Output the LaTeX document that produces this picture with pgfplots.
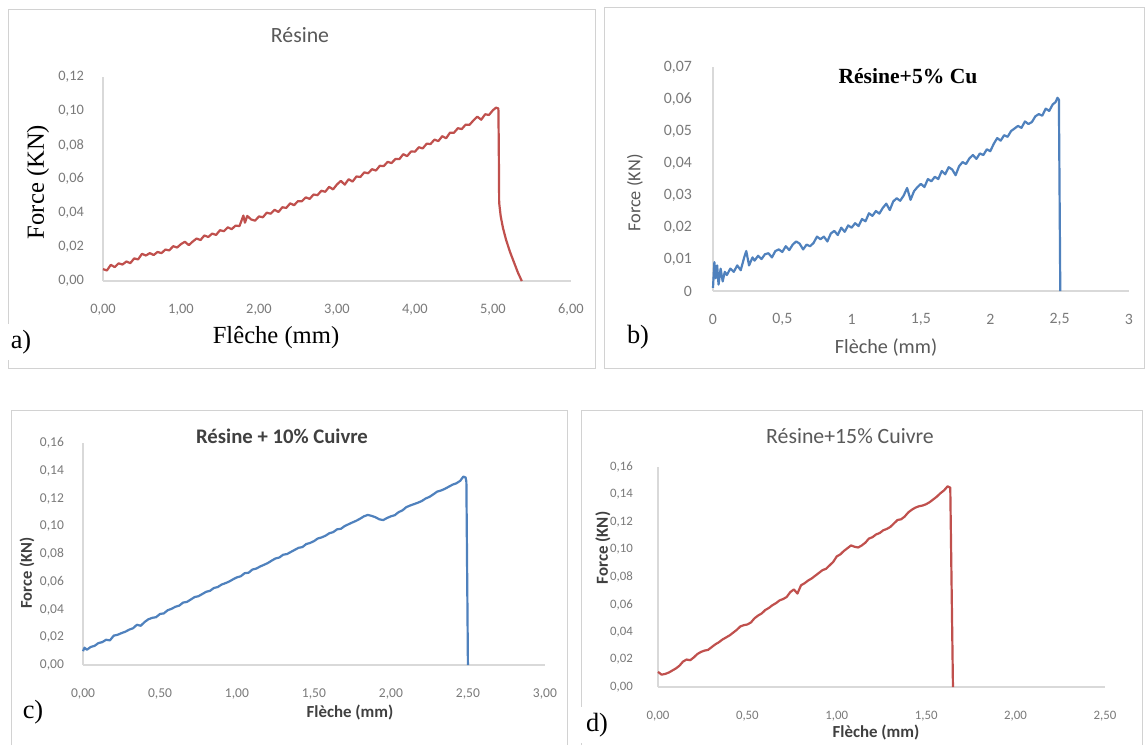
\documentclass[border=0pt]{standalone}
\usepackage{fontspec}
\usepackage{pgfplots}
\pgfplotsset{compat=1.18}
\setmainfont{Carlito}
\newfontfamily\tnr{Liberation Serif}

\definecolor{exred}{RGB}{192,80,77}
\definecolor{exblue}{RGB}{79,129,189}
\definecolor{axgray}{RGB}{217,217,217}
\definecolor{tickgray}{RGB}{122,122,122}
\definecolor{labgray}{RGB}{89,89,89}
\definecolor{darkgray}{RGB}{64,64,64}
\definecolor{framegray}{RGB}{210,210,210}

\pgfplotsset{
  panel/.style={
    scale only axis, anchor=south west,
    axis x line=bottom, axis y line=left,
    axis line style={draw=axgray, line width=0.8pt, -},
    tick style={draw=none},
    scaled x ticks=false, scaled y ticks=false,
    ticklabel style={text=tickgray, inner sep=0pt},
    xticklabel style={anchor=center, yshift=-0.5cm},
    clip=false,
    xmin=0, ymin=0,
    every axis plot/.append style={line width=1.25pt, line join=round},
  }
}

\begin{document}
\begin{tikzpicture}
\begin{scope}[x=0.02cm, y=-0.02cm]
  \fill[white] (0,0) rectangle (1147,745);
  \useasboundingbox (0,0) rectangle (1147,745);
  % panel frames
  \draw[framegray] (8,9) rectangle (595,368);
  \draw[framegray] (604,7) rectangle (1144,368);
  \draw[framegray] (11,745) -- (11,410) -- (567,410) -- (567,745);
  \draw[framegray] (581,745) -- (581,410) -- (1142,410) -- (1142,745);
  % axis origins
  \coordinate (A) at (103,281);
  \coordinate (B) at (713,291);
  \coordinate (C) at (83,665);
  \coordinate (D) at (658,687);
\end{scope}

% a) Resine
\begin{axis}[panel, at={(A)}, width=9.36cm, height=4.08cm,
  xmax=6, ymax=0.12,
  xtick={0,1,2,3,4,5,6}, xticklabels={{0,00},{1,00},{2,00},{3,00},{4,00},{5,00},{6,00}},
  ytick={0,0.02,0.04,0.06,0.08,0.10,0.12},
  yticklabels={{0,00},{0,02},{0,04},{0,06},{0,08},{0,10},{0,12}},
  ticklabel style={font=\fontsize{8.2}{10}\selectfont},
  yticklabel style={anchor=east, xshift=-0.3cm}]
\addplot[exred] coordinates {
(0.00,0.0070)(0.05,0.0062)(0.10,0.0095)(0.15,0.0082)(0.20,0.0104)(0.25,0.0097)
(0.30,0.0115)(0.35,0.0105)(0.40,0.0133)(0.45,0.0127)(0.50,0.0160)(0.55,0.0150)
(0.60,0.0164)(0.65,0.0153)(0.70,0.0171)(0.75,0.0164)(0.80,0.0185)(0.85,0.0180)
(0.90,0.0205)(0.95,0.0197)(1.00,0.0217)(1.05,0.0231)(1.10,0.0211)(1.15,0.0232)
(1.20,0.0250)(1.25,0.0241)(1.30,0.0268)(1.35,0.0259)(1.40,0.0279)(1.45,0.0271)
(1.50,0.0299)(1.55,0.0293)(1.60,0.0316)(1.65,0.0305)(1.70,0.0326)(1.75,0.0323)
(1.80,0.0385)(1.82,0.0343)(1.85,0.0383)(1.90,0.0362)(1.95,0.0355)(2.00,0.0380)
(2.05,0.0375)(2.10,0.0402)(2.15,0.0396)(2.20,0.0419)(2.25,0.0406)(2.30,0.0434)
(2.35,0.0430)(2.40,0.0457)(2.45,0.0446)(2.50,0.0470)(2.55,0.0469)(2.60,0.0492)
(2.65,0.0483)(2.70,0.0509)(2.75,0.0505)(2.80,0.0531)(2.85,0.0525)(2.90,0.0554)
(2.95,0.0539)(3.00,0.0568)(3.05,0.0589)(3.10,0.0567)(3.15,0.0599)(3.20,0.0585)
(3.25,0.0615)(3.30,0.0612)(3.35,0.0639)(3.40,0.0634)(3.45,0.0658)(3.50,0.0650)
(3.55,0.0678)(3.60,0.0676)(3.65,0.0701)(3.70,0.0694)(3.75,0.0718)(3.80,0.0717)
(3.85,0.0746)(3.90,0.0735)(3.95,0.0762)(4.00,0.0761)(4.05,0.0787)(4.10,0.0780)
(4.15,0.0808)(4.20,0.0806)(4.25,0.0832)(4.30,0.0823)(4.35,0.0852)(4.40,0.0840)
(4.45,0.0873)(4.50,0.0872)(4.55,0.0899)(4.60,0.0894)(4.65,0.0920)(4.70,0.0919)
(4.75,0.0945)(4.80,0.0967)(4.85,0.0949)(4.90,0.0981)(4.95,0.0977)(5.00,0.1005)
(5.04,0.1020)(5.07,0.1015)(5.075,0.0800)(5.08,0.0460)(5.10,0.0380)(5.13,0.0310)
(5.17,0.0240)(5.22,0.0170)(5.27,0.0110)(5.32,0.0050)(5.37,0.0000)
};
\end{axis}

% b) Resine+5% Cu
\begin{axis}[panel, at={(B)}, width=8.32cm, height=4.48cm,
  xmax=3, ymax=0.07,
  xtick={0,0.5,1,1.5,2,2.5,3}, xticklabels={0,{0,5},1,{1,5},2,{2,5},3},
  ytick={0,0.01,0.02,0.03,0.04,0.05,0.06,0.07},
  yticklabels={0,{0,01},{0,02},{0,03},{0,04},{0,05},{0,06},{0,07}},
  ticklabel style={font=\fontsize{9}{11}\selectfont},
  yticklabel style={anchor=east, xshift=-0.34cm}]
\addplot[exblue] coordinates {
(0.000,0.0010)(0.010,0.0090)(0.020,0.0040)(0.030,0.0080)(0.040,0.0020)(0.055,0.0070)
(0.070,0.0030)(0.085,0.0060)(0.100,0.0050)(0.125,0.0070)(0.150,0.0060)(0.175,0.0080)
(0.200,0.0065)(0.225,0.0105)(0.240,0.0125)(0.260,0.0080)(0.285,0.0105)(0.300,0.0095)
(0.325,0.0110)(0.350,0.0100)(0.375,0.0115)(0.400,0.0118)(0.425,0.0105)(0.450,0.0125)
(0.475,0.0130)(0.500,0.0122)(0.525,0.0140)(0.550,0.0128)(0.575,0.0145)(0.600,0.0155)
(0.625,0.0148)(0.650,0.0130)(0.675,0.0145)(0.700,0.0140)(0.725,0.0150)(0.750,0.0170)
(0.775,0.0162)(0.800,0.0170)(0.825,0.0155)(0.850,0.0180)(0.875,0.0188)(0.900,0.0175)
(0.925,0.0198)(0.950,0.0185)(0.975,0.0205)(1.000,0.0198)(1.025,0.0212)(1.050,0.0203)
(1.075,0.0225)(1.100,0.0218)(1.125,0.0243)(1.150,0.0235)(1.175,0.0250)(1.200,0.0242)
(1.225,0.0260)(1.250,0.0273)(1.275,0.0253)(1.300,0.0280)(1.325,0.0290)(1.350,0.0282)
(1.375,0.0298)(1.400,0.0322)(1.425,0.0285)(1.450,0.0312)(1.475,0.0325)(1.500,0.0335)
(1.525,0.0325)(1.550,0.0350)(1.575,0.0343)(1.600,0.0357)(1.625,0.0350)(1.650,0.0375)
(1.675,0.0365)(1.700,0.0387)(1.725,0.0380)(1.750,0.0362)(1.775,0.0390)(1.800,0.0403)
(1.825,0.0397)(1.850,0.0415)(1.875,0.0425)(1.900,0.0413)(1.925,0.0430)(1.950,0.0425)
(1.975,0.0443)(2.000,0.0437)(2.025,0.0460)(2.050,0.0478)(2.075,0.0470)(2.100,0.0487)
(2.125,0.0482)(2.150,0.0500)(2.175,0.0508)(2.200,0.0516)(2.225,0.0510)(2.250,0.0530)
(2.275,0.0522)(2.300,0.0528)(2.325,0.0546)(2.350,0.0553)(2.375,0.0548)(2.400,0.0570)
(2.425,0.0563)(2.450,0.0583)(2.470,0.0590)(2.485,0.0604)(2.495,0.0598)(2.505,0.0000)
};
\end{axis}

% c) Resine + 10% Cuivre
\begin{axis}[panel, at={(C)}, width=9.24cm, height=4.44cm,
  xmax=3, ymax=0.16,
  xtick={0,0.5,1,1.5,2,2.5,3},
  xticklabels={{0,00},{0,50},{1,00},{1,50},{2,00},{2,50},{3,00}},
  ytick={0,0.02,0.04,0.06,0.08,0.10,0.12,0.14,0.16},
  yticklabels={{0,00},{0,02},{0,04},{0,06},{0,08},{0,10},{0,12},{0,14},{0,16}},
  ticklabel style={font=\fontsize{7.7}{9}\selectfont},
  yticklabel style={anchor=east, xshift=-0.3cm}]
\addplot[exblue] coordinates {
(0.000,0.0100)(0.010,0.0125)(0.025,0.0110)(0.050,0.0130)(0.075,0.0138)(0.100,0.0158)
(0.125,0.0165)(0.150,0.0182)(0.175,0.0178)(0.200,0.0212)(0.225,0.0218)(0.250,0.0230)
(0.275,0.0240)(0.300,0.0255)(0.325,0.0265)(0.350,0.0290)(0.375,0.0283)(0.400,0.0310)
(0.425,0.0330)(0.450,0.0340)(0.475,0.0345)(0.500,0.0368)(0.525,0.0372)(0.550,0.0395)
(0.575,0.0405)(0.600,0.0420)(0.625,0.0428)(0.650,0.0450)(0.675,0.0455)(0.700,0.0472)
(0.725,0.0490)(0.750,0.0496)(0.775,0.0512)(0.800,0.0528)(0.825,0.0535)(0.850,0.0555)
(0.875,0.0562)(0.900,0.0580)(0.925,0.0590)(0.950,0.0602)(0.975,0.0618)(1.000,0.0632)
(1.025,0.0640)(1.050,0.0662)(1.075,0.0665)(1.100,0.0688)(1.125,0.0695)(1.150,0.0710)
(1.175,0.0722)(1.200,0.0735)(1.225,0.0752)(1.250,0.0768)(1.275,0.0775)(1.300,0.0795)
(1.325,0.0800)(1.350,0.0815)(1.375,0.0830)(1.400,0.0845)(1.425,0.0850)(1.450,0.0872)
(1.475,0.0880)(1.500,0.0893)(1.525,0.0912)(1.550,0.0920)(1.575,0.0932)(1.600,0.0950)
(1.625,0.0958)(1.650,0.0978)(1.675,0.0982)(1.700,0.1002)(1.725,0.1015)(1.750,0.1028)
(1.775,0.1040)(1.800,0.1055)(1.825,0.1072)(1.850,0.1082)(1.875,0.1075)(1.900,0.1065)
(1.925,0.1050)(1.950,0.1045)(1.975,0.1060)(2.000,0.1072)(2.025,0.1080)(2.050,0.1102)
(2.075,0.1115)(2.100,0.1138)(2.125,0.1150)(2.150,0.1160)(2.175,0.1170)(2.200,0.1182)
(2.225,0.1200)(2.250,0.1212)(2.275,0.1230)(2.300,0.1250)(2.325,0.1258)(2.350,0.1270)
(2.375,0.1285)(2.400,0.1300)(2.425,0.1310)(2.450,0.1328)(2.470,0.1358)(2.485,0.1352)
(2.490,0.1320)(2.500,0.0000)
};
\end{axis}

% d) Resine+15% Cuivre
\begin{axis}[panel, at={(D)}, width=8.94cm, height=4.40cm,
  xmax=2.5, ymax=0.16,
  xtick={0,0.5,1,1.5,2,2.5},
  xticklabels={{0,00},{0,50},{1,00},{1,50},{2,00},{2,50}},
  ytick={0,0.02,0.04,0.06,0.08,0.10,0.12,0.14,0.16},
  yticklabels={{0,00},{0,02},{0,04},{0,06},{0,08},{0,10},{0,12},{0,14},{0,16}},
  ticklabel style={font=\fontsize{7.3}{9}\selectfont},
  yticklabel style={anchor=east, xshift=-0.42cm}]
\addplot[exred] coordinates {
(0.00,0.0110)(0.02,0.0090)(0.04,0.0095)(0.06,0.0105)(0.08,0.0120)(0.10,0.0135)
(0.12,0.0155)(0.14,0.0185)(0.16,0.0200)(0.18,0.0195)(0.20,0.0215)(0.22,0.0240)
(0.24,0.0255)(0.26,0.0265)(0.28,0.0270)(0.30,0.0290)(0.32,0.0310)(0.34,0.0325)
(0.36,0.0345)(0.38,0.0360)(0.40,0.0375)(0.42,0.0395)(0.44,0.0415)(0.46,0.0440)
(0.48,0.0450)(0.50,0.0455)(0.52,0.0470)(0.54,0.0500)(0.56,0.0520)(0.58,0.0535)
(0.60,0.0560)(0.62,0.0575)(0.64,0.0595)(0.66,0.0610)(0.68,0.0630)(0.70,0.0640)
(0.72,0.0655)(0.74,0.0690)(0.76,0.0710)(0.78,0.0680)(0.80,0.0740)(0.82,0.0755)
(0.84,0.0775)(0.86,0.0790)(0.88,0.0810)(0.90,0.0830)(0.92,0.0850)(0.94,0.0860)
(0.96,0.0885)(0.98,0.0910)(1.00,0.0950)(1.02,0.0965)(1.04,0.0990)(1.06,0.1010)
(1.08,0.1030)(1.10,0.1020)(1.12,0.1015)(1.14,0.1030)(1.16,0.1050)(1.18,0.1080)
(1.20,0.1090)(1.22,0.1110)(1.24,0.1120)(1.26,0.1140)(1.28,0.1150)(1.30,0.1165)
(1.32,0.1190)(1.34,0.1215)(1.36,0.1220)(1.38,0.1240)(1.40,0.1270)(1.42,0.1290)
(1.44,0.1305)(1.46,0.1315)(1.48,0.1320)(1.50,0.1330)(1.52,0.1345)(1.54,0.1365)
(1.56,0.1385)(1.58,0.1410)(1.60,0.1430)(1.62,0.1460)(1.635,0.1450)(1.65,0.0000)
};
\end{axis}

% titles, axis labels and panel letters
\begin{scope}[x=0.02cm, y=-0.02cm]
  % a
  \node[text=labgray, font=\fontsize{12.4}{14}\selectfont] at (300,35) {Résine};
  \node[rotate=90, font=\tnr\fontsize{14}{16}\selectfont] at (38,182) {Force (KN)};
  \node[font=\tnr\fontsize{14}{16}\selectfont] at (276,338) {Flêche (mm)};
  \node[fill=white, font=\tnr\fontsize{15}{17}\selectfont] at (21,342) {a)};
  % b
  \node[font=\tnr\bfseries\fontsize{12.3}{14}\selectfont] at (908,76) {Résine+5\% Cu};
  \node[rotate=90, text=labgray, font=\fontsize{10.4}{12}\selectfont] at (635,193) {Force (KN)};
  \node[text=labgray, font=\fontsize{11.5}{13}\selectfont] at (886,347) {Flèche (mm)};
  \node[fill=white, font=\tnr\fontsize{15}{17}\selectfont] at (638,337) {b)};
  % c
  \node[text=darkgray, font=\bfseries\fontsize{11.8}{14}\selectfont] at (282,436) {Résine + 10\% Cuivre};
  \node[rotate=90, text=darkgray, font=\bfseries\fontsize{9.4}{11}\selectfont] at (27,573) {Force (KN)};
  \node[text=darkgray, font=\bfseries\fontsize{9.6}{11}\selectfont] at (350,713) {Flèche (mm)};
  \node[fill=white, font=\tnr\fontsize{15}{17}\selectfont] at (33,712) {c)};
  % d
  \node[text=labgray, font=\fontsize{12.4}{14}\selectfont] at (850,436) {Résine+15\% Cuivre};
  \node[rotate=90, text=darkgray, font=\bfseries\fontsize{9.6}{11}\selectfont] at (603,548) {Force (KN)};
  \node[text=darkgray, font=\bfseries\fontsize{9.6}{11}\selectfont] at (876,733) {Flèche (mm)};
  \node[fill=white, font=\tnr\fontsize{15}{17}\selectfont] at (597,725) {d)};
\end{scope}
\end{tikzpicture}
\end{document}
